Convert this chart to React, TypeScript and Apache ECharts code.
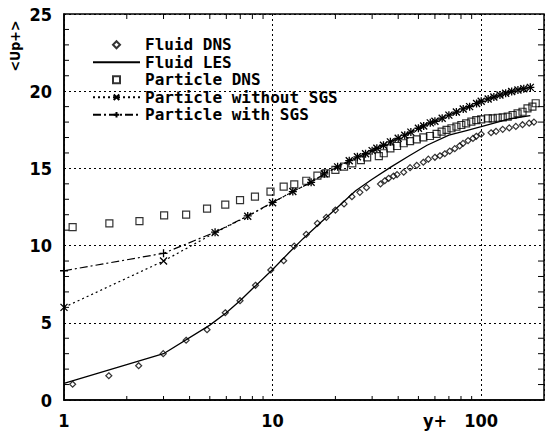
import React, { useEffect, useRef } from "react";
import * as echarts from "echarts";

// ---- data ----
const fluidDnsX = [1.1, 1.64, 2.28, 2.99, 3.85, 4.85, 5.93, 6.98, 8.28, 9.8, 11.3, 12.7, 14.5, 16.4, 18.1, 20.0, 22.0, 24.0, 26.2, 28.2, 32.9, 34.5, 36, 38, 39.5, 42.5, 45.6, 49.1, 52.8, 55.8, 60, 63.4, 66.9, 70.7, 74.7, 78.9, 81.8, 86.5, 91.3, 94.7, 100, 111.5, 117.8, 126.8, 136.3, 146.6, 157.8, 169.8, 179];
const fluidDnsY = [1.02, 1.57, 2.22, 3.0, 3.87, 4.55, 5.65, 6.43, 7.43, 8.42, 9.02, 9.97, 10.73, 11.44, 11.83, 12.3, 12.7, 13.17, 13.45, 13.75, 13.99, 14.2, 14.36, 14.5, 14.6, 14.75, 15.05, 15.2, 15.4, 15.6, 15.72, 15.82, 15.95, 16.12, 16.28, 16.46, 16.62, 16.8, 16.94, 17.08, 17.22, 17.31, 17.4, 17.53, 17.62, 17.72, 17.83, 17.93, 18.0];

const fluidLesX = [1, 3, 5, 6, 7, 8, 10, 12, 14, 17, 20, 25, 30, 37, 45, 55, 70, 85, 100, 120, 136, 155, 172];
const fluidLesY = [1.08, 3.0, 4.85, 5.65, 6.45, 7.2, 8.45, 9.55, 10.45, 11.5, 12.35, 13.55, 14.3, 15.1, 15.8, 16.5, 17.15, 17.45, 17.7, 18.0, 18.2, 18.33, 18.42];

const particleDnsX = [1.1, 1.65, 2.3, 3.02, 3.85, 4.85, 5.93, 6.98, 8.23, 9.77, 11.3, 12.7, 14.5, 16.4, 18.0, 20.0, 22.0, 24.1, 26.5, 28.4, 32.3, 34.1, 36.7, 39.5, 42.5, 45.6, 49.1, 52.8, 56.8, 61.1, 64.6, 68.2, 72, 76.1, 80.3, 84.7, 89.7, 94.7, 100, 107.6, 113.6, 120, 126.8, 134, 141.5, 149.4, 157.8, 166.7, 176, 182.5];
const particleDnsY = [11.2, 11.44, 11.59, 11.96, 12.0, 12.39, 12.65, 12.95, 13.17, 13.49, 13.82, 13.97, 14.2, 14.53, 14.68, 14.9, 15.11, 15.33, 15.54, 15.72, 15.8, 15.98, 16.3, 16.45, 16.63, 16.77, 16.88, 17.01, 17.1, 17.23, 17.38, 17.49, 17.6, 17.7, 17.81, 17.92, 18.03, 18.13, 18.18, 18.24, 18.24, 18.28, 18.31, 18.35, 18.46, 18.57, 18.67, 18.89, 19.0, 19.22];

const particleLesX = [1, 3, 5.3, 7.6, 10, 12.5, 15.3, 17.7, 20.5, 23.3, 25.5, 27.9, 30, 31.6, 34, 36.7, 40, 43, 46, 50, 53, 57, 60, 65, 70, 76, 82, 88, 95, 100, 108, 115, 123, 131, 140, 150, 160, 172];
const withoutSgsY = [6.0, 9.0, 10.84, 11.9, 12.78, 13.5, 14.1, 14.65, 15.1, 15.5, 15.75, 15.95, 16.15, 16.3, 16.5, 16.72, 16.95, 17.15, 17.35, 17.6, 17.75, 17.95, 18.05, 18.25, 18.45, 18.65, 18.85, 19.0, 19.2, 19.35, 19.5, 19.62, 19.75, 19.87, 19.98, 20.08, 20.16, 20.25];
const withSgsY = [8.37, 9.5, 10.87, 11.92, 12.8, 13.5, 14.1, 14.65, 15.1, 15.5, 15.75, 15.95, 16.15, 16.3, 16.5, 16.72, 16.95, 17.15, 17.35, 17.6, 17.75, 17.95, 18.05, 18.25, 18.45, 18.65, 18.85, 19.0, 19.2, 19.35, 19.5, 19.62, 19.75, 19.87, 19.98, 20.08, 20.16, 20.25];

const xMajorLabels = [1, 10, 100];
const xMinorTicks = [2, 3, 4, 5, 6, 7, 8, 9, 20, 30, 40, 50, 60, 70, 80, 90];
const yMinorTicks = [1, 2, 3, 4, 6, 7, 8, 9, 11, 12, 13, 14, 16, 17, 18, 19, 21, 22, 23, 24];

const seriesNames = ["Fluid DNS", "Fluid LES", "Particle DNS", "Particle without SGS", "Particle with SGS"];

const zip = (xs: number[], ys: number[]) => xs.map((x, i) => [x, ys[i]]);

const FONT = '"Liberation Sans Narrow", "DejaVu Sans Condensed", "Arial Narrow", sans-serif';
const MONO = '"DejaVu Sans Mono", "Liberation Mono", monospace';
const BLACK = "#000";
const CLEAR = "rgba(255,255,255,0)";
const DIAMOND = "path://M5,0L10,5L5,10L0,5Z";
const SQUARE = "path://M0,0L10,0L10,10L0,10Z";
const CROSS = "path://M0,0L10,10M10,0L0,10";
const PLUS = "path://M5,0L5,10M0,5L10,5";

export default function App() {
  const ref = useRef<HTMLDivElement>(null);
  useEffect(() => {
    const chart = echarts.init(ref.current!, null, { renderer: "svg" });
    const option: any = {
      animation: false,
      backgroundColor: "#fff",
      textStyle: { fontFamily: FONT, color: BLACK },
      grid: {
        left: 64, top: 14, right: -1, bottom: 33,
        show: true, borderColor: BLACK, borderWidth: 1.5, backgroundColor: "transparent",
      },
      xAxis: {
        type: "log", logBase: 10, min: 1, max: 200,
        axisLine: { show: true, lineStyle: { color: BLACK, width: 1.5 } },
        axisTick: { show: false },
        minorTick: { show: false },
        splitLine: { show: true, lineStyle: { color: BLACK, type: [2, 3], width: 1 } },
        axisLabel: {
          color: BLACK, fontSize: 18, fontWeight: "bold", fontFamily: FONT, margin: 11,
          formatter: (v: number) => {
            const r = Math.round(v);
            return xMajorLabels.includes(r) ? String(r) : "";
          },
        },
      },
      yAxis: {
        type: "value", min: 0, max: 25, interval: 5,
        axisLine: { show: true, lineStyle: { color: BLACK, width: 1.5 } },
        axisTick: { show: false },
        splitLine: { show: true, lineStyle: { color: BLACK, type: [2, 3], width: 1 } },
        axisLabel: { color: BLACK, fontSize: 18, fontWeight: "bold", fontFamily: FONT, margin: 12 },
      },
      legend: {
        orient: "vertical", left: 92, top: 36, padding: 0,
        itemWidth: 47, itemHeight: 7, itemGap: 0,
        selectedMode: false,
        data: [
          { name: seriesNames[0], icon: DIAMOND },
          { name: seriesNames[1], itemStyle: { color: CLEAR, borderColor: CLEAR, borderWidth: 0 } },
          { name: seriesNames[2], icon: SQUARE },
          { name: seriesNames[3] },
          { name: seriesNames[4] },
        ],
        textStyle: { fontFamily: MONO, fontSize: 16, fontWeight: "bold", color: BLACK, lineHeight: 17.5 },
      },
      series: [
        {
          name: seriesNames[0], type: "scatter", symbol: DIAMOND, symbolSize: 6,
          itemStyle: { color: CLEAR, borderColor: BLACK, borderWidth: 1.2 },
          data: zip(fluidDnsX, fluidDnsY), z: 3,
        },
        {
          name: seriesNames[1], type: "line", symbol: "none", showSymbol: false,
          lineStyle: { color: BLACK, width: 1.3, type: "solid" },
          itemStyle: { color: BLACK },
          data: zip(fluidLesX, fluidLesY), z: 2,
        },
        {
          name: seriesNames[2], type: "scatter", symbol: SQUARE, symbolSize: 7,
          itemStyle: { color: CLEAR, borderColor: BLACK, borderWidth: 1.2 },
          data: zip(particleDnsX, particleDnsY), z: 3,
        },
        {
          name: seriesNames[3], type: "line", symbol: CROSS, symbolSize: 7,
          showSymbol: true,
          lineStyle: { color: BLACK, width: 1.2, type: [2, 3] },
          itemStyle: { color: BLACK, borderColor: BLACK, borderWidth: 1.3 },
          data: zip(particleLesX, withoutSgsY), z: 2,
        },
        {
          name: seriesNames[4], type: "line", symbol: PLUS, symbolSize: 8,
          showSymbol: true,
          lineStyle: { color: BLACK, width: 1.2, type: [8, 3, 2, 3] },
          itemStyle: { color: BLACK, borderColor: BLACK, borderWidth: 1.3 },
          data: zip(particleLesX, withSgsY), z: 2,
        },
        {
          type: "custom", name: "xMinor", silent: true,
          data: xMinorTicks.map((v) => [v, 0]),
          encode: { x: 0, y: 1 },
          renderItem: (params: any, api: any) => {
            const p = api.coord([api.value(0), 0]);
            const cs = params.coordSys;
            const b = cs.y + cs.height;
            return {
              type: "group",
              children: [
                { type: "line", shape: { x1: p[0], y1: b, x2: p[0], y2: b - 4 }, style: { stroke: BLACK, lineWidth: 1 } },
                { type: "line", shape: { x1: p[0], y1: cs.y, x2: p[0], y2: cs.y + 5 }, style: { stroke: BLACK, lineWidth: 1 } },
              ],
            };
          },
        },
        {
          type: "custom", name: "yMinor", silent: true,
          data: yMinorTicks.map((v) => [1, v]),
          encode: { x: 0, y: 1 },
          renderItem: (params: any, api: any) => {
            const p = api.coord([1, api.value(1)]);
            const cs = params.coordSys;
            const r = cs.x + cs.width;
            return {
              type: "group",
              children: [
                { type: "line", shape: { x1: cs.x, y1: p[1], x2: cs.x + 5, y2: p[1] }, style: { stroke: BLACK, lineWidth: 1 } },
                { type: "line", shape: { x1: r, y1: p[1], x2: r - 6, y2: p[1] }, style: { stroke: BLACK, lineWidth: 1 } },
              ],
            };
          },
        },
      ],
      graphic: [
        {
          type: "text", x: 15, y: 46, rotation: Math.PI / 2,
          style: { text: "<Up+>", fill: BLACK, font: `bold 14px ${FONT}`, align: "center", verticalAlign: "middle" },
        },
        {
          type: "text", x: 435, y: 420,
          style: { text: "y+", fill: BLACK, font: `bold 18px ${FONT}`, align: "center", verticalAlign: "middle" },
        },
      ],
    };
    chart.setOption(option);
    return () => chart.dispose();
  }, []);
  return (
    <div
      ref={ref}
      style={{ position: "fixed", left: 0, top: 0, width: 547, height: 433, background: "#fff" }}
    />
  );
}
